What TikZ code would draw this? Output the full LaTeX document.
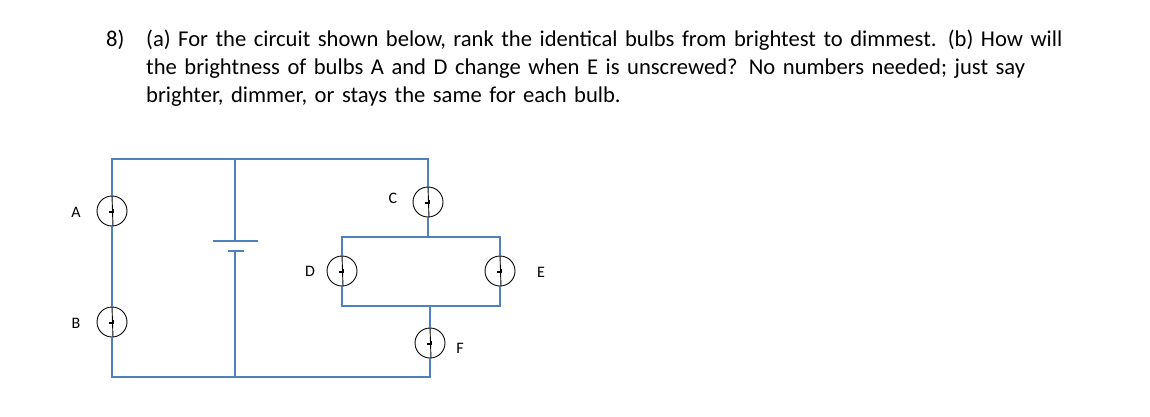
\documentclass[tikz,border=0pt]{standalone}
\usepackage{fontspec}
\setmainfont{Carlito}
\definecolor{wirec}{HTML}{4F81BD}
\begin{document}
\begin{tikzpicture}[x=1pt,y=-1pt,
  wire/.style={draw=wirec, line width=1.6pt},
  bulb/.style={circle, draw=black, line width=0.9pt, minimum size=30pt, inner sep=0pt},
  lab/.style={font=\fontsize{16}{18}\selectfont}]
\useasboundingbox (0,0) rectangle (1150,417);
\node[anchor=base west, font=\fontsize{22.6}{28}\selectfont, inner sep=0pt] (q) at (106,47) {8)};
\node[anchor=base west, align=left, text width=960pt, font=\fontsize{22.6}{28}\selectfont, inner sep=0pt] (t) at (146,47)
 {(a) For the circuit shown below, rank the identical bulbs from brightest to dimmest. (b) How will\\
 the brightness of bulbs A and D change when E is unscrewed? No numbers needed; just say\\
 brighter, dimmer, or stays the same for each bulb.};
% corners
\coordinate (tl) at (112,159); \coordinate (bl) at (112,377);
\coordinate (tb) at (235,159); \coordinate (bb) at (235,377);
\coordinate (tr) at (428,159); \coordinate (br) at (430,377);
\coordinate (itl) at (342,237); \coordinate (itr) at (500,237);
\coordinate (ibl) at (342,306); \coordinate (ibr) at (500,306);
\coordinate (bp) at (235,241); \coordinate (bn) at (235,251);
\coordinate (ct) at (428,237); \coordinate (fb) at (430,306);
% bulbs
\node[bulb] (A) at (112,211) {}; \node[bulb] (B) at (112,322) {};
\node[bulb] (C) at (428,202) {}; \node[bulb] (D) at (342,271) {};
\node[bulb] (E) at (500,271) {}; \node[bulb] (F) at (430,343) {};
% wires
\draw[wire] (A.north) -- (tl) -- (tr) -- (C.north);
\draw[wire] (A.south) -- (B.north);
\draw[wire] (B.south) -- (bl) -- (br) -- (F.south);
\draw[wire] (tb) -- (bp); \draw[wire] (bn) -- (bb);
\draw[wire, line width=1.2pt] (213,241) -- (258,241);
\draw[wire, line width=2pt] (228,251) -- (244,251);
\draw[wire] (C.south) -- (ct);
\draw[wire] (D.north) -- (itl) -- (itr) -- (E.north);
\draw[wire] (D.south) -- (ibl) -- (ibr) -- (E.south);
\draw[wire] (F.north) -- (fb);
% filaments
\foreach \b in {A,B,C,D,E,F}{
  \draw[black, line width=0.9pt] (\b.north) -- ([xshift=1pt]\b.south);
  \draw[black, line width=1.2pt] ([xshift=-3pt,yshift=-1pt]\b.center) -- ([xshift=1pt,yshift=-1pt]\b.center) -- ([xshift=1pt,yshift=2pt]\b.center);
}
\node[lab] (lA) at (76,212) {A}; \node[lab] (lB) at (76,323) {B};
\node[lab] (lC) at (393,198) {C}; \node[lab] (lD) at (310,271) {D};
\node[lab] (lE) at (541,272) {E}; \node[lab] (lF) at (460,348) {F};
\end{tikzpicture}
\end{document}
